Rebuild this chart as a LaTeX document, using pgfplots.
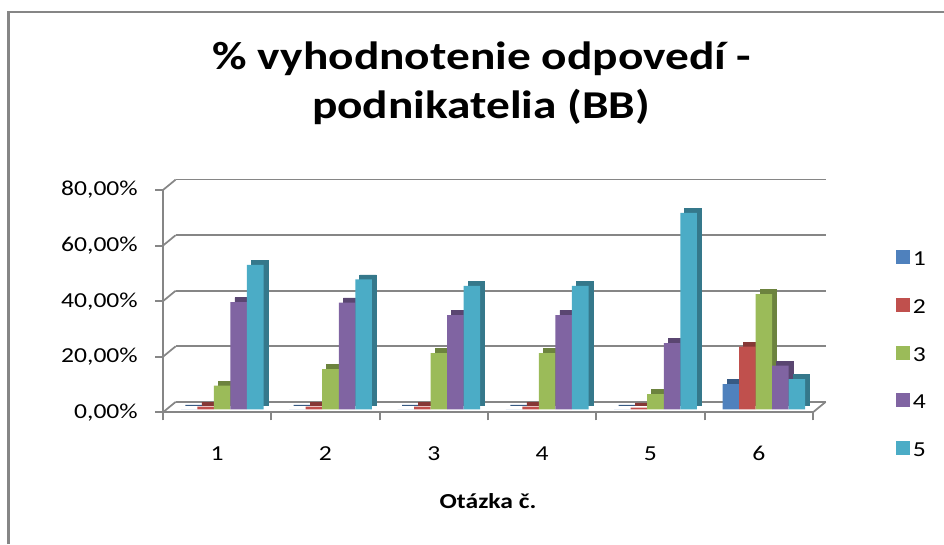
\documentclass[border=0pt]{standalone}
\usepackage{pgfplots}
\pgfplotsset{compat=1.18}
\usepackage{pgfplotstable}
\usepackage{fontspec}
\setmainfont{Carlito}[FakeStretch=1.2]
\definecolor{cA}{HTML}{4F81BD}
\definecolor{cB}{HTML}{C0504D}
\definecolor{cC}{HTML}{9BBB59}
\definecolor{cD}{HTML}{8064A2}
\definecolor{cE}{HTML}{4BACC6}
\definecolor{axgray}{HTML}{868686}
\pgfplotstableread{
x  s1   s2   s3    s4    s5
1  0    1.0  8.6   38.6  52.0
2  0    1.0  14.5  38.5  46.8
3  0    1.0  20.3  34.0  44.5
4  0    1.0  20.3  34.0  44.5
5  0    0.7  5.5   23.9  70.8
6  9.1  22.6 41.5  15.8  10.9
}\datatable
\begin{document}
\begin{tikzpicture}
\useasboundingbox (0,0) rectangle (708pt,408pt);
\draw[axgray, line width=2.2pt] (6.5pt,0) -- (6.5pt,399pt) -- (708pt,399pt);
\node[anchor=base, font=\bfseries\fontsize{29.6}{36}\selectfont] at (361.5pt,356pt) {\% vyhodnotenie odpovedí -};
\node[anchor=base, font=\bfseries\fontsize{29.6}{36}\selectfont] at (360.8pt,319.5pt) {podnikatelia (BB)};
\begin{axis}[
  at={(122.25pt,98.8pt)}, anchor=south west,
  scale only axis, width=487.5pt, height=166.7pt,
  xmin=0.5, xmax=6.5, ymin=0, ymax=80,
  clip=false,
  axis x line*=bottom, axis y line*=left,
  axis line style={axgray, line width=1.5pt, -},
  tick align=outside, major tick length=6pt,
  tick style={axgray, line width=1.5pt},
  xtick={0.5,1.5,...,6.5},
  xticklabels={1,2,3,4,5,6,{}},
  xticklabel style={anchor=base, inner sep=0pt, xshift=40.6pt, yshift=-29.8pt},
  ytick={0,20,40,60,80},
  yticklabels={{0,00\%},{20,00\%},{40,00\%},{60,00\%},{80,00\%}},
  yticklabel style={anchor=east, inner sep=0pt, xshift=-12.75pt},
  ticklabel style={font=\fontsize{16}{19}\selectfont},
  ymajorgrids,
  major grid style={axgray, line width=1.3pt, xshift=9.5pt, yshift=7.8pt},
  xlabel={\textbf{Otázka č.}},
  xlabel style={at={(axis description cs:0.5,0)}, anchor=base, inner sep=0pt, yshift=-72.5pt, font=\fontsize{16}{19}\selectfont},
  ybar=0pt, bar width=12.4pt,
  legend style={at={(axis description cs:1.1277,0.735)}, anchor=north west, draw=none, fill=none, inner sep=0pt, row sep=20pt, font=\fontsize{16}{19}\selectfont},
  legend cell align=left,
  legend image code/.code={\fill[#1] (0pt,-5.25pt) rectangle (10.5pt,5.25pt);},
]
% floor / wall connectors
\draw[axgray, line width=1.3pt] (axis cs:0.5,0) -- ++(9.5pt,7.8pt);
\draw[axgray, line width=1.3pt] (axis cs:0.5,20) -- ++(9.5pt,7.8pt);
\draw[axgray, line width=1.3pt] (axis cs:0.5,40) -- ++(9.5pt,7.8pt);
\draw[axgray, line width=1.3pt] (axis cs:0.5,60) -- ++(9.5pt,7.8pt);
\draw[axgray, line width=1.3pt] (axis cs:0.5,80) -- ++(9.5pt,7.8pt);
\draw[axgray, line width=1.3pt] (axis cs:6.5,0) -- ++(9.5pt,7.8pt);
% series 1
\addplot[forget plot, fill=cA!70!black, draw=cA!70!black, line width=0.6pt, bar shift=-24.8pt, xshift=7.15pt, yshift=5.5pt] table[x=x,y=s1]{\datatable};
\addplot[fill=cA, draw=none, bar shift=-24.8pt, xshift=3.75pt, yshift=2.1pt] table[x=x,y=s1]{\datatable};
\addlegendentry{1}
% series 2
\addplot[forget plot, fill=cB!70!black, draw=cB!70!black, line width=0.6pt, bar shift=-12.4pt, xshift=7.15pt, yshift=5.5pt] table[x=x,y=s2]{\datatable};
\addplot[fill=cB, draw=none, bar shift=-12.4pt, xshift=3.75pt, yshift=2.1pt] table[x=x,y=s2]{\datatable};
\addlegendentry{2}
% series 3
\addplot[forget plot, fill=cC!70!black, draw=cC!70!black, line width=0.6pt, bar shift=0pt, xshift=7.15pt, yshift=5.5pt] table[x=x,y=s3]{\datatable};
\addplot[fill=cC, draw=none, bar shift=0pt, xshift=3.75pt, yshift=2.1pt] table[x=x,y=s3]{\datatable};
\addlegendentry{3}
% series 4
\addplot[forget plot, fill=cD!70!black, draw=cD!70!black, line width=0.6pt, bar shift=12.4pt, xshift=7.15pt, yshift=5.5pt] table[x=x,y=s4]{\datatable};
\addplot[fill=cD, draw=none, bar shift=12.4pt, xshift=3.75pt, yshift=2.1pt] table[x=x,y=s4]{\datatable};
\addlegendentry{4}
% series 5
\addplot[forget plot, fill=cE!70!black, draw=cE!70!black, line width=0.6pt, bar shift=24.8pt, xshift=7.15pt, yshift=5.5pt] table[x=x,y=s5]{\datatable};
\addplot[fill=cE, draw=none, bar shift=24.8pt, xshift=3.75pt, yshift=2.1pt] table[x=x,y=s5]{\datatable};
\addlegendentry{5}
\end{axis}
\end{tikzpicture}
\end{document}
